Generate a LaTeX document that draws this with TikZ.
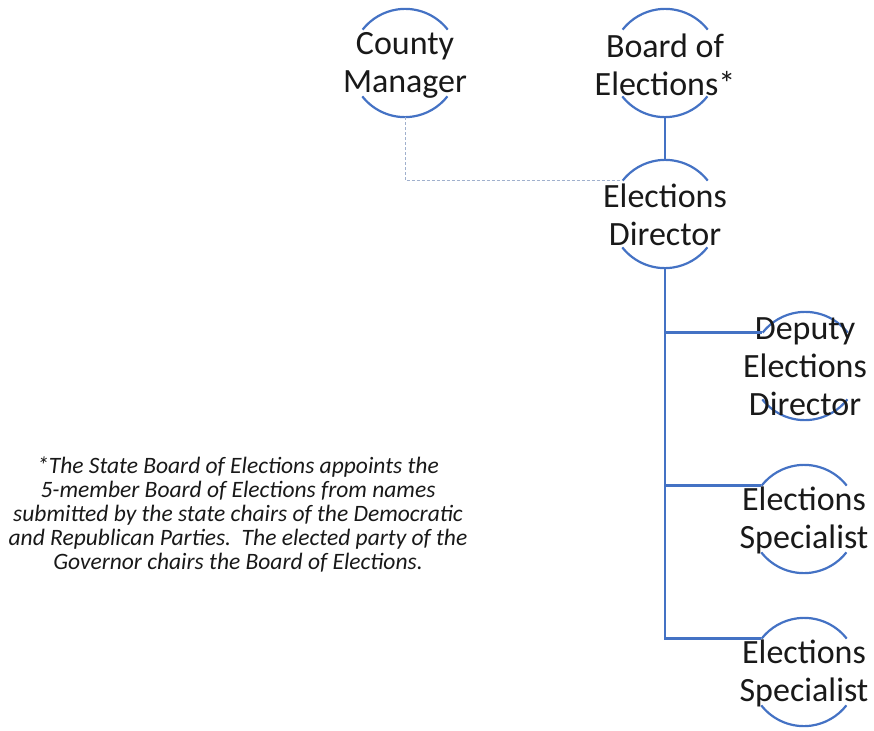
\documentclass[tikz,border=0pt]{standalone}
\usepackage{fontspec}
\setmainfont{Carlito}
\usetikzlibrary{calc}
\definecolor{lineblue}{RGB}{68,114,196}
\definecolor{dashgray}{RGB}{160,176,205}
\definecolor{txtcol}{RGB}{25,25,25}
\begin{document}
\begin{tikzpicture}[x=1pt,y=1pt,
  ring/.style={circle,minimum size=108pt,inner sep=0pt,draw=none},
  lbl/.style={align=center,inner sep=0pt,text=txtcol,font=\fontsize{34}{38}\selectfont},
  arcline/.style={draw=lineblue,line width=2.2pt},
  conn/.style={draw=lineblue,line width=2.6pt},
  dashconn/.style={draw=dashgray,line width=1pt,dash pattern=on 3pt off 2pt},
  note/.style={align=center,inner sep=0pt,text=txtcol,font=\fontsize{23.5}{24}\selectfont\itshape}]
\useasboundingbox (0,0) rectangle (874,-730);
\newcommand{\ringarcs}[1]{%
  \draw[arcline] (#1.38) arc (38:142:54pt);
  \draw[arcline] (#1.218) arc (218:322:54pt);}
% circles
\node[ring] (cmc) at (405,-63) {};
\node[ring] (boc) at (665,-63) {};
\node[ring] (dirc) at (665,-214) {};
\node[ring] (depc) at (805,-366) {};
\node[ring] (sp1c) at (804,-519) {};
\node[ring] (sp2c) at (804,-672) {};
\ringarcs{cmc}\ringarcs{boc}\ringarcs{dirc}\ringarcs{depc}\ringarcs{sp1c}\ringarcs{sp2c}
% labels
\node[lbl] (cmt) at ([yshift=-2pt]cmc.center) {County\\Manager};
\node[lbl] (bot) at ([yshift=-2pt]boc.center) {Board of\\Elections*};
\node[lbl] (dirt) at ([yshift=-1pt]dirc.center) {Elections\\Director};
\node[lbl] (dept) at ([yshift=-1pt]depc.center) {Deputy\\Elections\\Director};
\node[lbl] (sp1t) at ([yshift=-1pt]sp1c.center) {Elections\\Specialist};
\node[lbl] (sp2t) at ([yshift=-1pt]sp2c.center) {Elections\\Specialist};
% connectors
\draw[conn] (boc.south) -- (dirc.north);
\draw[dashconn] (cmc.south) |- (dirc.142);
\draw[conn] (dirc.south) |- (sp2c.142);
\draw[conn] (dirc.south |- depc.142) -- (depc.142);
\draw[conn] (dirc.south |- sp1c.142) -- (sp1c.142);
% note
\node[note] (fn) at (238,-515) {*The State Board of Elections appoints the\\5-member Board of Elections from names\\submitted by the state chairs of the Democratic\\and Republican Parties.\ \ The elected party of the\\Governor chairs the Board of Elections.};
\end{tikzpicture}
\end{document}
